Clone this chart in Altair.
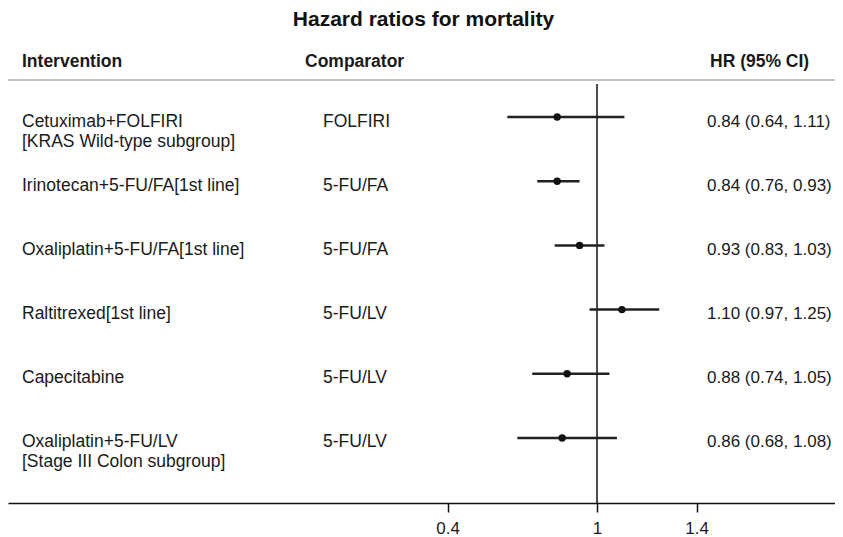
import altair as alt
import pandas as pd

# ---- data ----
interventions = [
    "Cetuximab+FOLFIRI\n[KRAS Wild-type subgroup]",
    "Irinotecan+5-FU/FA[1st line]",
    "Oxaliplatin+5-FU/FA[1st line]",
    "Raltitrexed[1st line]",
    "Capecitabine",
    "Oxaliplatin+5-FU/LV\n[Stage III Colon subgroup]",
]
comparators = ["FOLFIRI", "5-FU/FA", "5-FU/FA", "5-FU/LV", "5-FU/LV", "5-FU/LV"]
hr = [0.84, 0.84, 0.93, 1.10, 0.88, 0.86]
ci_low = [0.64, 0.76, 0.83, 0.97, 0.74, 0.68]
ci_high = [1.11, 0.93, 1.03, 1.25, 1.05, 1.08]
headers = ["Intervention", "Comparator", "HR (95% CI)"]
x_ticks = [0.4, 1, 1.4]
reference_value = [1]
chart_title = "Hazard ratios for mortality"

rows = list(range(1, len(hr) + 1))
df = pd.DataFrame({
    "row": rows,
    "intervention": interventions,
    "comparator": comparators,
    "hr": hr,
    "lo": ci_low,
    "hi": ci_high,
})
df["label"] = [f"{h:.2f} ({l:.2f}, {u:.2f})" for h, l, u in zip(hr, ci_low, ci_high)]
ref_df = pd.DataFrame({"ref": reference_value})

FONT = "Liberation Sans"
FS = 17.5
TXT = "#1a1a1a"
W, H = 827, 463

xscale = alt.Scale(domain=[-1.3655, 1.9558], nice=False, zero=False)
yscale = alt.Scale(domain=[-0.1994, 7.0125], reverse=True, nice=False, zero=False)
xaxis = alt.Axis(
    values=x_ticks, format="~g", grid=False,
    domainColor="#111", domainWidth=1.5,
    tickColor="#111", tickWidth=1.5, tickSize=9,
    labelFont=FONT, labelFontSize=17, labelColor=TXT, labelPadding=8,
    labelFlush=False,
)


def X(field, axis=False):
    if axis:
        return alt.X(field, type="quantitative", scale=xscale, axis=xaxis, title=None)
    return alt.X(field, type="quantitative", scale=xscale, title=None)


Y = alt.Y("row:Q", scale=yscale, axis=None)

base = alt.Chart(df)

ci = base.mark_rule(strokeWidth=2.5, color="#222").encode(
    x=X("lo", axis=True), x2="hi:Q", y=Y
)
pts = base.mark_circle(size=55, color="#111", opacity=1).encode(x=X("hr"), y=Y)

ref_line = alt.Chart(ref_df).mark_rule(color="#111", strokeWidth=1.5).encode(
    x=X("ref"), y=alt.value(44), y2=alt.value(H)
)

header_line = alt.Chart(ref_df).mark_rule(color="#c4c4c4", strokeWidth=2).encode(
    x=alt.value(0), x2=alt.value(W), y=alt.value(40)
)

txt_kw = dict(align="left", baseline="middle", dy=4.5, fontSize=FS, font=FONT,
              lineBreak="\n", lineHeight=20, color=TXT)
col_int = base.mark_text(**txt_kw).encode(x=alt.value(14), y=Y, text="intervention:N")
col_cmp = base.mark_text(**txt_kw).encode(x=alt.value(315), y=Y, text="comparator:N")
hr_kw = dict(txt_kw, fontSize=17)
col_hr = base.mark_text(**hr_kw).encode(x=alt.value(699), y=Y, text="label:N")

hdr_kw = dict(align="left", baseline="middle", fontSize=FS, font=FONT,
              fontWeight="bold", color=TXT)
hdr_layers = [
    alt.Chart(ref_df).mark_text(text=h, **hdr_kw).encode(x=alt.value(xp), y=alt.value(22))
    for h, xp in zip(headers, [14, 297, 702])
]

chart = alt.layer(
    header_line, ref_line, ci, pts, col_int, col_cmp, col_hr, *hdr_layers
).properties(
    width=W,
    height=H,
    padding={"left": 0, "top": 32, "right": 0, "bottom": 34},
    autosize=alt.AutoSizeParams(type="none"),
    title=alt.Title(chart_title, fontSize=21, font=FONT, fontWeight="bold",
                    anchor="middle", offset=10, color="#111", dx=2),
).configure_view(stroke=None)

chart.save("out.html", embed_options={"renderer": "svg", "actions": False})
